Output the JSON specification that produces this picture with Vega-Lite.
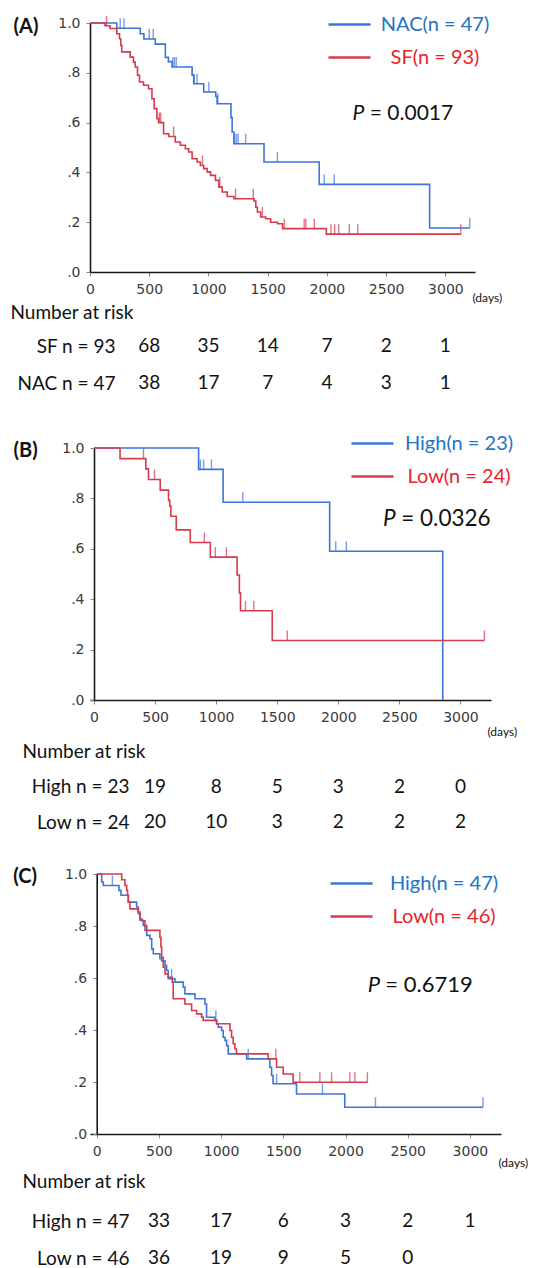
{
  "$schema": "https://vega.github.io/schema/vega-lite/v6.json",
  "background": "white",
  "padding": {"left": 10, "top": 2, "right": 0, "bottom": 0},
  "bounds": "flush",
  "spacing": 20,
  "resolve": {
    "scale": {"x": "independent", "y": "independent", "color": "independent"},
    "axis": {"x": "independent", "y": "independent"},
    "legend": {"color": "independent"}
  },
  "config": {
    "view": {"stroke": null},
    "axis": {"grid": false, "domainColor": "#1a1a1a", "domainWidth": 1.6, "tickColor": "#8a8a8a", "tickSize": 4, "labelFont": "DejaVu Sans", "labelFontSize": 14, "labelColor": "#3a3a3a", "titleFont": "Lato", "titleFontWeight": "normal", "titleColor": "#111111"},
    "legend": {"symbolType": "stroke", "symbolSize": 1764, "symbolStrokeWidth": 2.5, "labelFont": "Lato", "labelFontSize": 20, "labelAlign": "center", "labelLimit": 400, "padding": 0, "rowPadding": -7},
    "text": {"font": "Lato", "fontSize": 19, "color": "#111111"}
  },
  "datasets": {
    "kmA": [
      {"group": "NAC(n = 47)", "t": 0, "s": 1}, {"group": "NAC(n = 47)", "t": 226, "s": 0.979}, {"group": "NAC(n = 47)", "t": 424, "s": 0.957}, {"group": "NAC(n = 47)", "t": 455, "s": 0.936}, {"group": "NAC(n = 47)", "t": 551, "s": 0.915}, {"group": "NAC(n = 47)", "t": 636, "s": 0.862}, {"group": "NAC(n = 47)", "t": 662, "s": 0.845}, {"group": "NAC(n = 47)", "t": 692, "s": 0.823}, {"group": "NAC(n = 47)", "t": 862, "s": 0.79}, {"group": "NAC(n = 47)", "t": 876, "s": 0.756}, {"group": "NAC(n = 47)", "t": 960, "s": 0.723}, {"group": "NAC(n = 47)", "t": 1062, "s": 0.705}, {"group": "NAC(n = 47)", "t": 1073, "s": 0.676}, {"group": "NAC(n = 47)", "t": 1190, "s": 0.62}, {"group": "NAC(n = 47)", "t": 1200, "s": 0.562}, {"group": "NAC(n = 47)", "t": 1215, "s": 0.515}, {"group": "NAC(n = 47)", "t": 1469, "s": 0.442}, {"group": "NAC(n = 47)", "t": 1935, "s": 0.352}, {"group": "NAC(n = 47)", "t": 2867, "s": 0.177}, {"group": "NAC(n = 47)", "t": 3206, "s": 0.177},
      {"group": "SF(n = 93)", "t": 0, "s": 1}, {"group": "SF(n = 93)", "t": 127, "s": 0.989}, {"group": "SF(n = 93)", "t": 169, "s": 0.978}, {"group": "SF(n = 93)", "t": 226, "s": 0.957}, {"group": "SF(n = 93)", "t": 249, "s": 0.937}, {"group": "SF(n = 93)", "t": 260, "s": 0.91}, {"group": "SF(n = 93)", "t": 268, "s": 0.884}, {"group": "SF(n = 93)", "t": 339, "s": 0.863}, {"group": "SF(n = 93)", "t": 367, "s": 0.843}, {"group": "SF(n = 93)", "t": 381, "s": 0.823}, {"group": "SF(n = 93)", "t": 401, "s": 0.79}, {"group": "SF(n = 93)", "t": 418, "s": 0.763}, {"group": "SF(n = 93)", "t": 452, "s": 0.75}, {"group": "SF(n = 93)", "t": 494, "s": 0.736}, {"group": "SF(n = 93)", "t": 523, "s": 0.696}, {"group": "SF(n = 93)", "t": 542, "s": 0.656}, {"group": "SF(n = 93)", "t": 565, "s": 0.616}, {"group": "SF(n = 93)", "t": 579, "s": 0.6}, {"group": "SF(n = 93)", "t": 621, "s": 0.555}, {"group": "SF(n = 93)", "t": 664, "s": 0.544}, {"group": "SF(n = 93)", "t": 720, "s": 0.522}, {"group": "SF(n = 93)", "t": 763, "s": 0.509}, {"group": "SF(n = 93)", "t": 805, "s": 0.495}, {"group": "SF(n = 93)", "t": 833, "s": 0.482}, {"group": "SF(n = 93)", "t": 862, "s": 0.455}, {"group": "SF(n = 93)", "t": 904, "s": 0.442}, {"group": "SF(n = 93)", "t": 932, "s": 0.428}, {"group": "SF(n = 93)", "t": 960, "s": 0.415}, {"group": "SF(n = 93)", "t": 989, "s": 0.402}, {"group": "SF(n = 93)", "t": 1017, "s": 0.388}, {"group": "SF(n = 93)", "t": 1059, "s": 0.368}, {"group": "SF(n = 93)", "t": 1088, "s": 0.341}, {"group": "SF(n = 93)", "t": 1116, "s": 0.321}, {"group": "SF(n = 93)", "t": 1158, "s": 0.303}, {"group": "SF(n = 93)", "t": 1215, "s": 0.294}, {"group": "SF(n = 93)", "t": 1384, "s": 0.285}, {"group": "SF(n = 93)", "t": 1400, "s": 0.26}, {"group": "SF(n = 93)", "t": 1413, "s": 0.241}, {"group": "SF(n = 93)", "t": 1441, "s": 0.221}, {"group": "SF(n = 93)", "t": 1483, "s": 0.214}, {"group": "SF(n = 93)", "t": 1525, "s": 0.2}, {"group": "SF(n = 93)", "t": 1582, "s": 0.194}, {"group": "SF(n = 93)", "t": 1626, "s": 0.174}, {"group": "SF(n = 93)", "t": 1995, "s": 0.152}, {"group": "SF(n = 93)", "t": 3130, "s": 0.152}
    ],
    "censA": [
      {"group": "NAC(n = 47)", "t": 255, "s": 0.979}, {"group": "NAC(n = 47)", "t": 287, "s": 0.979}, {"group": "NAC(n = 47)", "t": 500, "s": 0.936}, {"group": "NAC(n = 47)", "t": 534, "s": 0.936}, {"group": "NAC(n = 47)", "t": 700, "s": 0.823}, {"group": "NAC(n = 47)", "t": 713, "s": 0.823}, {"group": "NAC(n = 47)", "t": 728, "s": 0.823}, {"group": "NAC(n = 47)", "t": 880, "s": 0.756}, {"group": "NAC(n = 47)", "t": 904, "s": 0.756}, {"group": "NAC(n = 47)", "t": 1003, "s": 0.723}, {"group": "NAC(n = 47)", "t": 1080, "s": 0.676}, {"group": "NAC(n = 47)", "t": 1220, "s": 0.515}, {"group": "NAC(n = 47)", "t": 1235, "s": 0.515}, {"group": "NAC(n = 47)", "t": 1250, "s": 0.515}, {"group": "NAC(n = 47)", "t": 1314, "s": 0.515}, {"group": "NAC(n = 47)", "t": 1582, "s": 0.442}, {"group": "NAC(n = 47)", "t": 1977, "s": 0.352}, {"group": "NAC(n = 47)", "t": 2062, "s": 0.352}, {"group": "NAC(n = 47)", "t": 3206, "s": 0.177},
      {"group": "SF(n = 93)", "t": 140, "s": 0.989}, {"group": "SF(n = 93)", "t": 585, "s": 0.6}, {"group": "SF(n = 93)", "t": 597, "s": 0.6}, {"group": "SF(n = 93)", "t": 706, "s": 0.544}, {"group": "SF(n = 93)", "t": 950, "s": 0.428}, {"group": "SF(n = 93)", "t": 1095, "s": 0.341}, {"group": "SF(n = 93)", "t": 1229, "s": 0.294}, {"group": "SF(n = 93)", "t": 1378, "s": 0.294}, {"group": "SF(n = 93)", "t": 1455, "s": 0.221}, {"group": "SF(n = 93)", "t": 1640, "s": 0.174}, {"group": "SF(n = 93)", "t": 1808, "s": 0.174}, {"group": "SF(n = 93)", "t": 1822, "s": 0.174}, {"group": "SF(n = 93)", "t": 1893, "s": 0.174}, {"group": "SF(n = 93)", "t": 2034, "s": 0.152}, {"group": "SF(n = 93)", "t": 2065, "s": 0.152}, {"group": "SF(n = 93)", "t": 2100, "s": 0.152}, {"group": "SF(n = 93)", "t": 2189, "s": 0.152}, {"group": "SF(n = 93)", "t": 2260, "s": 0.152}, {"group": "SF(n = 93)", "t": 3130, "s": 0.152}
    ],
    "riskA": [
      {"row": "SF n = 93", "t": 500, "n": "68"}, {"row": "SF n = 93", "t": 1000, "n": "35"}, {"row": "SF n = 93", "t": 1500, "n": "14"}, {"row": "SF n = 93", "t": 2000, "n": "7"}, {"row": "SF n = 93", "t": 2500, "n": "2"}, {"row": "SF n = 93", "t": 3000, "n": "1"},
      {"row": "NAC n = 47", "t": 500, "n": "38"}, {"row": "NAC n = 47", "t": 1000, "n": "17"}, {"row": "NAC n = 47", "t": 1500, "n": "7"}, {"row": "NAC n = 47", "t": 2000, "n": "4"}, {"row": "NAC n = 47", "t": 2500, "n": "3"}, {"row": "NAC n = 47", "t": 3000, "n": "1"}
    ],
    "kmB": [
      {"group": "High(n = 23)", "t": 0, "s": 1}, {"group": "High(n = 23)", "t": 856, "s": 0.915}, {"group": "High(n = 23)", "t": 1057, "s": 0.785}, {"group": "High(n = 23)", "t": 1929, "s": 0.59}, {"group": "High(n = 23)", "t": 2855, "s": 0},
      {"group": "Low(n = 24)", "t": 0, "s": 1}, {"group": "Low(n = 24)", "t": 213, "s": 0.958}, {"group": "Low(n = 24)", "t": 424, "s": 0.917}, {"group": "Low(n = 24)", "t": 446, "s": 0.875}, {"group": "Low(n = 24)", "t": 542, "s": 0.833}, {"group": "Low(n = 24)", "t": 610, "s": 0.792}, {"group": "Low(n = 24)", "t": 620, "s": 0.77}, {"group": "Low(n = 24)", "t": 629, "s": 0.729}, {"group": "Low(n = 24)", "t": 673, "s": 0.675}, {"group": "Low(n = 24)", "t": 788, "s": 0.625}, {"group": "Low(n = 24)", "t": 952, "s": 0.567}, {"group": "Low(n = 24)", "t": 1171, "s": 0.496}, {"group": "Low(n = 24)", "t": 1190, "s": 0.425}, {"group": "Low(n = 24)", "t": 1199, "s": 0.354}, {"group": "Low(n = 24)", "t": 1459, "s": 0.236}, {"group": "Low(n = 24)", "t": 3196, "s": 0.236}
    ],
    "censB": [
      {"group": "High(n = 23)", "t": 870, "s": 0.915}, {"group": "High(n = 23)", "t": 897, "s": 0.915}, {"group": "High(n = 23)", "t": 961, "s": 0.915}, {"group": "High(n = 23)", "t": 1218, "s": 0.785}, {"group": "High(n = 23)", "t": 1979, "s": 0.59}, {"group": "High(n = 23)", "t": 2066, "s": 0.59},
      {"group": "Low(n = 24)", "t": 405, "s": 0.958}, {"group": "Low(n = 24)", "t": 495, "s": 0.875}, {"group": "Low(n = 24)", "t": 903, "s": 0.625}, {"group": "Low(n = 24)", "t": 993, "s": 0.567}, {"group": "Low(n = 24)", "t": 1084, "s": 0.567}, {"group": "Low(n = 24)", "t": 1240, "s": 0.354}, {"group": "Low(n = 24)", "t": 1308, "s": 0.354}, {"group": "Low(n = 24)", "t": 1582, "s": 0.236}, {"group": "Low(n = 24)", "t": 3196, "s": 0.236}
    ],
    "riskB": [
      {"row": "High n = 23", "t": 500, "n": "19"}, {"row": "High n = 23", "t": 1000, "n": "8"}, {"row": "High n = 23", "t": 1500, "n": "5"}, {"row": "High n = 23", "t": 2000, "n": "3"}, {"row": "High n = 23", "t": 2500, "n": "2"}, {"row": "High n = 23", "t": 3000, "n": "0"},
      {"row": "Low n = 24", "t": 500, "n": "20"}, {"row": "Low n = 24", "t": 1000, "n": "10"}, {"row": "Low n = 24", "t": 1500, "n": "3"}, {"row": "Low n = 24", "t": 2000, "n": "2"}, {"row": "Low n = 24", "t": 2500, "n": "2"}, {"row": "Low n = 24", "t": 3000, "n": "2"}
    ],
    "kmC": [
      {"group": "High(n = 47)", "t": 0, "s": 1}, {"group": "High(n = 47)", "t": 40, "s": 0.969}, {"group": "High(n = 47)", "t": 53, "s": 0.956}, {"group": "High(n = 47)", "t": 179, "s": 0.937}, {"group": "High(n = 47)", "t": 195, "s": 0.918}, {"group": "High(n = 47)", "t": 254, "s": 0.892}, {"group": "High(n = 47)", "t": 321, "s": 0.873}, {"group": "High(n = 47)", "t": 334, "s": 0.847}, {"group": "High(n = 47)", "t": 348, "s": 0.822}, {"group": "High(n = 47)", "t": 374, "s": 0.802}, {"group": "High(n = 47)", "t": 388, "s": 0.783}, {"group": "High(n = 47)", "t": 402, "s": 0.764}, {"group": "High(n = 47)", "t": 428, "s": 0.751}, {"group": "High(n = 47)", "t": 442, "s": 0.712}, {"group": "High(n = 47)", "t": 455, "s": 0.693}, {"group": "High(n = 47)", "t": 508, "s": 0.674}, {"group": "High(n = 47)", "t": 522, "s": 0.666}, {"group": "High(n = 47)", "t": 549, "s": 0.648}, {"group": "High(n = 47)", "t": 562, "s": 0.629}, {"group": "High(n = 47)", "t": 575, "s": 0.597}, {"group": "High(n = 47)", "t": 629, "s": 0.584}, {"group": "High(n = 47)", "t": 696, "s": 0.565}, {"group": "High(n = 47)", "t": 709, "s": 0.539}, {"group": "High(n = 47)", "t": 790, "s": 0.52}, {"group": "High(n = 47)", "t": 870, "s": 0.5}, {"group": "High(n = 47)", "t": 883, "s": 0.449}, {"group": "High(n = 47)", "t": 950, "s": 0.437}, {"group": "High(n = 47)", "t": 964, "s": 0.424}, {"group": "High(n = 47)", "t": 977, "s": 0.411}, {"group": "High(n = 47)", "t": 1004, "s": 0.398}, {"group": "High(n = 47)", "t": 1017, "s": 0.372}, {"group": "High(n = 47)", "t": 1031, "s": 0.36}, {"group": "High(n = 47)", "t": 1044, "s": 0.34}, {"group": "High(n = 47)", "t": 1057, "s": 0.308}, {"group": "High(n = 47)", "t": 1205, "s": 0.289}, {"group": "High(n = 47)", "t": 1392, "s": 0.257}, {"group": "High(n = 47)", "t": 1406, "s": 0.225}, {"group": "High(n = 47)", "t": 1418, "s": 0.193}, {"group": "High(n = 47)", "t": 1606, "s": 0.154}, {"group": "High(n = 47)", "t": 1994, "s": 0.103}, {"group": "High(n = 47)", "t": 3105, "s": 0.103},
      {"group": "Low(n = 46)", "t": 0, "s": 1}, {"group": "Low(n = 46)", "t": 201, "s": 0.978}, {"group": "Low(n = 46)", "t": 227, "s": 0.956}, {"group": "Low(n = 46)", "t": 241, "s": 0.937}, {"group": "Low(n = 46)", "t": 248, "s": 0.918}, {"group": "Low(n = 46)", "t": 254, "s": 0.892}, {"group": "Low(n = 46)", "t": 267, "s": 0.866}, {"group": "Low(n = 46)", "t": 334, "s": 0.854}, {"group": "Low(n = 46)", "t": 348, "s": 0.828}, {"group": "Low(n = 46)", "t": 361, "s": 0.82}, {"group": "Low(n = 46)", "t": 388, "s": 0.802}, {"group": "Low(n = 46)", "t": 402, "s": 0.783}, {"group": "Low(n = 46)", "t": 508, "s": 0.757}, {"group": "Low(n = 46)", "t": 516, "s": 0.719}, {"group": "Low(n = 46)", "t": 522, "s": 0.68}, {"group": "Low(n = 46)", "t": 535, "s": 0.642}, {"group": "Low(n = 46)", "t": 549, "s": 0.616}, {"group": "Low(n = 46)", "t": 575, "s": 0.603}, {"group": "Low(n = 46)", "t": 607, "s": 0.584}, {"group": "Low(n = 46)", "t": 615, "s": 0.52}, {"group": "Low(n = 46)", "t": 709, "s": 0.5}, {"group": "Low(n = 46)", "t": 763, "s": 0.475}, {"group": "Low(n = 46)", "t": 803, "s": 0.462}, {"group": "Low(n = 46)", "t": 843, "s": 0.449}, {"group": "Low(n = 46)", "t": 856, "s": 0.437}, {"group": "Low(n = 46)", "t": 964, "s": 0.424}, {"group": "Low(n = 46)", "t": 1071, "s": 0.398}, {"group": "Low(n = 46)", "t": 1084, "s": 0.372}, {"group": "Low(n = 46)", "t": 1097, "s": 0.347}, {"group": "Low(n = 46)", "t": 1111, "s": 0.327}, {"group": "Low(n = 46)", "t": 1124, "s": 0.308}, {"group": "Low(n = 46)", "t": 1378, "s": 0.289}, {"group": "Low(n = 46)", "t": 1446, "s": 0.257}, {"group": "Low(n = 46)", "t": 1499, "s": 0.231}, {"group": "Low(n = 46)", "t": 1579, "s": 0.199}, {"group": "Low(n = 46)", "t": 2178, "s": 0.199}
    ],
    "censC": [
      {"group": "High(n = 47)", "t": 126, "s": 0.956}, {"group": "High(n = 47)", "t": 602, "s": 0.597}, {"group": "High(n = 47)", "t": 958, "s": 0.437}, {"group": "High(n = 47)", "t": 1218, "s": 0.289}, {"group": "High(n = 47)", "t": 1446, "s": 0.193}, {"group": "High(n = 47)", "t": 1815, "s": 0.154}, {"group": "High(n = 47)", "t": 2241, "s": 0.103}, {"group": "High(n = 47)", "t": 3105, "s": 0.103},
      {"group": "Low(n = 46)", "t": 1440, "s": 0.289}, {"group": "Low(n = 46)", "t": 1633, "s": 0.199}, {"group": "Low(n = 46)", "t": 1794, "s": 0.199}, {"group": "Low(n = 46)", "t": 1888, "s": 0.199}, {"group": "Low(n = 46)", "t": 2035, "s": 0.199}, {"group": "Low(n = 46)", "t": 2075, "s": 0.199}, {"group": "Low(n = 46)", "t": 2176, "s": 0.199}
    ],
    "riskC": [
      {"row": "High n = 47", "t": 500, "n": "33"}, {"row": "High n = 47", "t": 1000, "n": "17"}, {"row": "High n = 47", "t": 1500, "n": "6"}, {"row": "High n = 47", "t": 2000, "n": "3"}, {"row": "High n = 47", "t": 2500, "n": "2"}, {"row": "High n = 47", "t": 3000, "n": "1"},
      {"row": "Low n = 46", "t": 500, "n": "36"}, {"row": "Low n = 46", "t": 1000, "n": "19"}, {"row": "Low n = 46", "t": 1500, "n": "9"}, {"row": "Low n = 46", "t": 2000, "n": "5"}, {"row": "Low n = 46", "t": 2500, "n": "0"}
    ]
  },
  "vconcat": [
    {
      "width": 385, "height": 249,
      "layer": [
        {"data": {"name": "kmA"}, "mark": {"type": "line", "interpolate": "step-after", "strokeWidth": 1.6},
          "encoding": {
            "x": {"field": "t", "type": "quantitative", "scale": {"domain": [0, 3250], "nice": false, "zero": false},
              "axis": {"title": "(days)", "values": [0, 250, 500, 750, 1000, 1250, 1500, 1750, 2000, 2250, 2500, 2750, 3000, 3250], "labelExpr": "datum.value % 500 == 0 ? '' + datum.value : ''", "labelPadding": 6, "labelOverlap": false, "labelFlush": false, "titleX": 382, "titleY": 25, "titleAlign": "left", "titleBaseline": "middle", "titleFontSize": 12}},
            "y": {"field": "s", "type": "quantitative", "scale": {"domain": [0, 1], "nice": false, "zero": false},
              "axis": {"title": "(A)", "values": [0, 0.1, 0.2, 0.3, 0.4, 0.5, 0.6, 0.7, 0.8, 0.9, 1], "labelExpr": "round(datum.value * 10) % 2 == 0 ? (datum.value == 1 ? '1.0' : replace(format(datum.value, '.1f'), '0.', '.')) : ''", "labelPadding": 6, "titleAngle": 0, "titleX": -77, "titleY": 3, "titleAlign": "left", "titleBaseline": "middle", "titleFontSize": 20, "titleFontWeight": "bold"}},
            "color": {"field": "group", "type": "nominal", "scale": {"domain": ["NAC(n = 47)", "SF(n = 93)"], "range": ["#3f73d9", "#d63b4b"]},
              "legend": {"title": null, "orient": "none", "legendX": 237, "legendY": -21, "labelOffset": 63, "encode": {"labels": {"update": {"fill": {"signal": "datum.index === 0 ? '#2473c6' : '#e8232b'"}}}}}}
          }},
        {"data": {"name": "censA"}, "mark": {"type": "tick", "orient": "vertical", "size": 10, "thickness": 1.4, "yOffset": -5},
          "encoding": {"x": {"field": "t", "type": "quantitative", "title": "(days)"}, "y": {"field": "s", "type": "quantitative", "title": "(A)"}, "color": {"field": "group", "type": "nominal"}}},
        {"data": {"values": [{"p": "P"}]}, "mark": {"type": "text", "fontStyle": "italic", "align": "left", "baseline": "middle", "fontSize": 21},
          "encoding": {"x": {"datum": 2215, "type": "quantitative"}, "y": {"datum": 0.636, "type": "quantitative"}, "text": {"field": "p", "type": "nominal"}}},
        {"data": {"values": [{"p": "= 0.0017"}]}, "mark": {"type": "text", "align": "left", "baseline": "middle", "fontSize": 21},
          "encoding": {"x": {"datum": 2362, "type": "quantitative"}, "y": {"datum": 0.636, "type": "quantitative"}, "text": {"field": "p", "type": "nominal"}}}
      ]
    },
    {
      "width": 385, "height": 136,
      "data": {"name": "riskA"},
      "mark": {"type": "text"},
      "encoding": {
        "x": {"field": "t", "type": "quantitative", "scale": {"domain": [0, 3250], "nice": false, "zero": false}, "axis": null},
        "y": {"field": "row", "type": "nominal", "scale": {"type": "point", "domain": ["SF n = 93", "NAC n = 47"], "range": [54, 91], "padding": 0},
          "axis": {"title": "Number at risk", "titleAngle": 0, "titleX": -80, "titleY": 20, "titleAlign": "left", "titleBaseline": "middle", "titleFontSize": 19, "domain": false, "ticks": false, "tickSize": 0, "labelPadding": -25, "labelFont": "Lato", "labelFontSize": 19, "labelColor": "#111111"}},
        "text": {"field": "n", "type": "nominal"}
      }
    },
    {
      "width": 401, "height": 252,
      "layer": [
        {"data": {"name": "kmB"}, "mark": {"type": "line", "interpolate": "step-after", "strokeWidth": 1.6},
          "encoding": {
            "x": {"field": "t", "type": "quantitative", "scale": {"domain": [-33, 3250], "nice": false, "zero": false},
              "axis": {"title": "(days)", "values": [0, 250, 500, 750, 1000, 1250, 1500, 1750, 2000, 2250, 2500, 2750, 3000, 3250], "labelExpr": "datum.value % 500 == 0 ? '' + datum.value : ''", "labelPadding": 6, "labelOverlap": false, "labelFlush": false, "titleX": 397, "titleY": 31, "titleAlign": "left", "titleBaseline": "middle", "titleFontSize": 12}},
            "y": {"field": "s", "type": "quantitative", "scale": {"domain": [0, 1], "nice": false, "zero": false},
              "axis": {"title": "(B)", "offset": -4, "values": [0, 0.1, 0.2, 0.3, 0.4, 0.5, 0.6, 0.7, 0.8, 0.9, 1], "labelExpr": "round(datum.value * 10) % 2 == 0 ? (datum.value == 1 ? '1.0' : replace(format(datum.value, '.1f'), '0.', '.')) : ''", "labelPadding": 6, "titleAngle": 0, "titleX": -81, "titleY": 2, "titleAlign": "left", "titleBaseline": "middle", "titleFontSize": 20, "titleFontWeight": "bold"}},
            "color": {"field": "group", "type": "nominal", "scale": {"domain": ["High(n = 23)", "Low(n = 24)"], "range": ["#3f73d9", "#d63b4b"]},
              "legend": {"title": null, "orient": "none", "legendX": 260, "legendY": -27, "labelOffset": 64, "encode": {"labels": {"update": {"fill": {"signal": "datum.index === 0 ? '#2473c6' : '#e8232b'"}}}}}}
          }},
        {"data": {"name": "censB"}, "mark": {"type": "tick", "orient": "vertical", "size": 10, "thickness": 1.4, "yOffset": -5},
          "encoding": {"x": {"field": "t", "type": "quantitative", "title": "(days)"}, "y": {"field": "s", "type": "quantitative", "title": "(B)"}, "color": {"field": "group", "type": "nominal"}}},
        {"data": {"values": [{"p": "P"}]}, "mark": {"type": "text", "fontStyle": "italic", "align": "left", "baseline": "middle", "fontSize": 22.5},
          "encoding": {"x": {"datum": 2365, "type": "quantitative"}, "y": {"datum": 0.719, "type": "quantitative"}, "text": {"field": "p", "type": "nominal"}}},
        {"data": {"values": [{"p": "= 0.0326"}]}, "mark": {"type": "text", "align": "left", "baseline": "middle", "fontSize": 22.5},
          "encoding": {"x": {"datum": 2515, "type": "quantitative"}, "y": {"datum": 0.719, "type": "quantitative"}, "text": {"field": "p", "type": "nominal"}}}
      ]
    },
    {
      "width": 401, "height": 134,
      "data": {"name": "riskB"},
      "mark": {"type": "text"},
      "encoding": {
        "x": {"field": "t", "type": "quantitative", "scale": {"domain": [-33, 3250], "nice": false, "zero": false}, "axis": null},
        "y": {"field": "row", "type": "nominal", "scale": {"type": "point", "domain": ["High n = 23", "Low n = 24"], "range": [66.5, 102], "padding": 0},
          "axis": {"title": "Number at risk", "titleAngle": 0, "titleX": -68, "titleY": 31.5, "titleAlign": "left", "titleBaseline": "middle", "titleFontSize": 19, "domain": false, "ticks": false, "tickSize": 0, "labelPadding": -39, "labelFont": "Lato", "labelFontSize": 19, "labelColor": "#111111"}},
        "text": {"field": "n", "type": "nominal"}
      }
    },
    {
      "width": 411, "height": 260,
      "layer": [
        {"data": {"name": "kmC"}, "mark": {"type": "line", "interpolate": "step-after", "strokeWidth": 1.6},
          "encoding": {
            "x": {"field": "t", "type": "quantitative", "scale": {"domain": [-54, 3250], "nice": false, "zero": false},
              "axis": {"title": "(days)", "values": [0, 250, 500, 750, 1000, 1250, 1500, 1750, 2000, 2250, 2500, 2750, 3000, 3250], "labelExpr": "datum.value % 500 == 0 ? '' + datum.value : ''", "labelPadding": 6, "labelOverlap": false, "labelFlush": false, "titleX": 408, "titleY": 28, "titleAlign": "left", "titleBaseline": "middle", "titleFontSize": 12}},
            "y": {"field": "s", "type": "quantitative", "scale": {"domain": [0, 1], "nice": false, "zero": false},
              "axis": {"title": "(C)", "offset": -6.7, "values": [0, 0.1, 0.2, 0.3, 0.4, 0.5, 0.6, 0.7, 0.8, 0.9, 1], "labelExpr": "round(datum.value * 10) % 2 == 0 ? (datum.value == 1 ? '1.0' : replace(format(datum.value, '.1f'), '0.', '.')) : ''", "labelPadding": 6, "titleAngle": 0, "titleX": -84, "titleY": 2, "titleAlign": "left", "titleBaseline": "middle", "titleFontSize": 20, "titleFontWeight": "bold"}},
            "color": {"field": "group", "type": "nominal", "scale": {"domain": ["High(n = 47)", "Low(n = 46)"], "range": ["#3f73d9", "#d63b4b"]},
              "legend": {"title": null, "orient": "none", "legendX": 239, "legendY": -13, "labelOffset": 70, "encode": {"labels": {"update": {"fill": {"signal": "datum.index === 0 ? '#2473c6' : '#e8232b'"}}}}}}
          }},
        {"data": {"name": "censC"}, "mark": {"type": "tick", "orient": "vertical", "size": 10, "thickness": 1.4, "yOffset": -5},
          "encoding": {"x": {"field": "t", "type": "quantitative", "title": "(days)"}, "y": {"field": "s", "type": "quantitative", "title": "(C)"}, "color": {"field": "group", "type": "nominal"}}},
        {"data": {"values": [{"p": "P"}]}, "mark": {"type": "text", "fontStyle": "italic", "align": "left", "baseline": "middle", "fontSize": 22},
          "encoding": {"x": {"datum": 2179, "type": "quantitative"}, "y": {"datum": 0.575, "type": "quantitative"}, "text": {"field": "p", "type": "nominal"}}},
        {"data": {"values": [{"p": "= 0.6719"}]}, "mark": {"type": "text", "align": "left", "baseline": "middle", "fontSize": 22},
          "encoding": {"x": {"datum": 2320, "type": "quantitative"}, "y": {"datum": 0.575, "type": "quantitative"}, "text": {"field": "p", "type": "nominal"}}}
      ]
    },
    {
      "width": 411, "height": 116,
      "data": {"name": "riskC"},
      "mark": {"type": "text"},
      "encoding": {
        "x": {"field": "t", "type": "quantitative", "scale": {"domain": [-54, 3250], "nice": false, "zero": false}, "axis": null},
        "y": {"field": "row", "type": "nominal", "scale": {"type": "point", "domain": ["High n = 47", "Low n = 46"], "range": [67, 104], "padding": 0},
          "axis": {"title": "Number at risk", "titleAngle": 0, "titleX": -68, "titleY": 27, "titleAlign": "left", "titleBaseline": "middle", "titleFontSize": 19, "domain": false, "ticks": false, "tickSize": 0, "labelPadding": -39, "labelFont": "Lato", "labelFontSize": 19, "labelColor": "#111111"}},
        "text": {"field": "n", "type": "nominal"}
      }
    }
  ]
}
